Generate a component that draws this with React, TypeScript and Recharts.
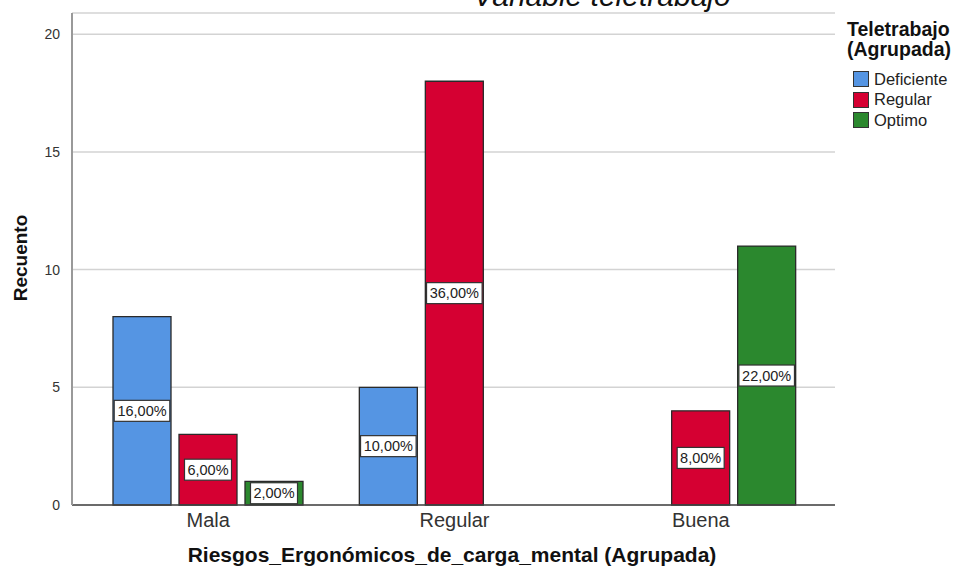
import React from 'react';
import { BarChart, Bar, XAxis, YAxis, CartesianGrid, LabelList, Label } from 'recharts';

const categories = ['Mala', 'Regular', 'Buena'];
const deficiente = [8, 5, 0];
const regular = [3, 18, 4];
const optimo = [1, 0, 11];
const yTicks = [0, 5, 10, 15, 20];
const total = 50;

const seriesInfo = [
  { key: 'Deficiente', color: '#5595e3' },
  { key: 'Regular', color: '#d50032' },
  { key: 'Optimo', color: '#2b882e' },
];

// zero counts are not drawn in the original, so they become null
const chartData = categories.map((name, i) => ({
  name,
  Deficiente: deficiente[i] || null,
  Regular: regular[i] || null,
  Optimo: optimo[i] || null,
}));

const FONT = '"Liberation Sans", Arial, sans-serif';

const pctLabel = (v: number) => ((v / total) * 100).toFixed(2).replace('.', ',') + '%';

const BoxLabel = (props: any) => {
  const { x, y, width, height, value } = props;
  if (value == null) return null;
  const text = pctLabel(Number(value));
  const w = text.length * 8.6 + 4;
  const h = 21;
  const cx = x + width / 2;
  const cy = y + height / 2;
  return (
    <g>
      <rect x={cx - w / 2} y={cy - h / 2} width={w} height={h} fill="#fff" stroke="#333" strokeWidth={1.2} />
      <text x={cx} y={cy + 5} textAnchor="middle" fontSize={14.5} fill="#222" fontFamily={FONT}>
        {text}
      </text>
    </g>
  );
};

const App = () => {
  return (
    <div style={{ position: 'absolute', left: 0, top: 0, width: 962, height: 574, background: '#fff', fontFamily: FONT }}>
      <BarChart
        width={962}
        height={574}
        data={chartData}
        margin={{ top: 13, right: 127, bottom: 39, left: 22 }}
        barCategoryGap={28}
        barGap={8}
      >
        <CartesianGrid vertical={false} stroke="#d3d3d3" strokeWidth={1.5} />
        <XAxis
          dataKey="name"
          padding={{ left: 13, right: 11 }}
          tickLine={false}
          axisLine={{ stroke: '#444', strokeWidth: 1.5 }}
          tick={{ fontSize: 20, fill: '#333', fontFamily: FONT }}
          height={30}
        >
          <Label
            content={() => (
              <text x={452} y={562} textAnchor="middle" fontSize={21} fontWeight="bold" fill="#111" fontFamily={FONT}>
                Riesgos_Ergonómicos_de_carga_mental (Agrupada)
              </text>
            )}
          />
        </XAxis>
        <YAxis
          width={50}
          domain={[0, 20.9]}
          ticks={yTicks}
          tickLine={false}
          axisLine={{ stroke: '#999', strokeWidth: 2 }}
          tick={{ fontSize: 14, fill: '#333', fontFamily: FONT }}
          tickMargin={6}
        >
          <Label
            content={() => (
              <text
                x={27}
                y={258}
                transform="rotate(-90, 27, 258)"
                textAnchor="middle"
                fontSize={19}
                fontWeight="bold"
                fill="#111"
                fontFamily={FONT}
              >
                Recuento
              </text>
            )}
          />
        </YAxis>
        {seriesInfo.map((s) => (
          <Bar key={s.key} dataKey={s.key} fill={s.color} stroke="#2a2a2a" strokeWidth={1.3} isAnimationActive={false}>
            <LabelList dataKey={s.key} content={BoxLabel} />
          </Bar>
        ))}
      </BarChart>

      <div
        style={{
          position: 'absolute', left: 0, width: 1204, top: -19, textAlign: 'center',
          fontSize: 30, fontStyle: 'italic', fontWeight: 'normal', color: '#111', lineHeight: '30px',
        }}
      >
        Variable teletrabajo
      </div>

      <div style={{ position: 'absolute', left: 847, top: 19, fontSize: 19.5, fontWeight: 'bold', color: '#111', lineHeight: '20px' }}>
        Teletrabajo
        <br />
        (Agrupada)
      </div>
      <div style={{ position: 'absolute', left: 853, top: 69 }}>
        {seriesInfo.map((s) => (
          <div key={s.key} style={{ display: 'flex', alignItems: 'center', height: 20.5 }}>
            <div style={{ width: 14, height: 14, background: s.color, border: '1px solid #333', marginRight: 5 }} />
            <span style={{ fontSize: 16.5, color: '#222' }}>{s.key}</span>
          </div>
        ))}
      </div>
    </div>
  );
};

export default App;
